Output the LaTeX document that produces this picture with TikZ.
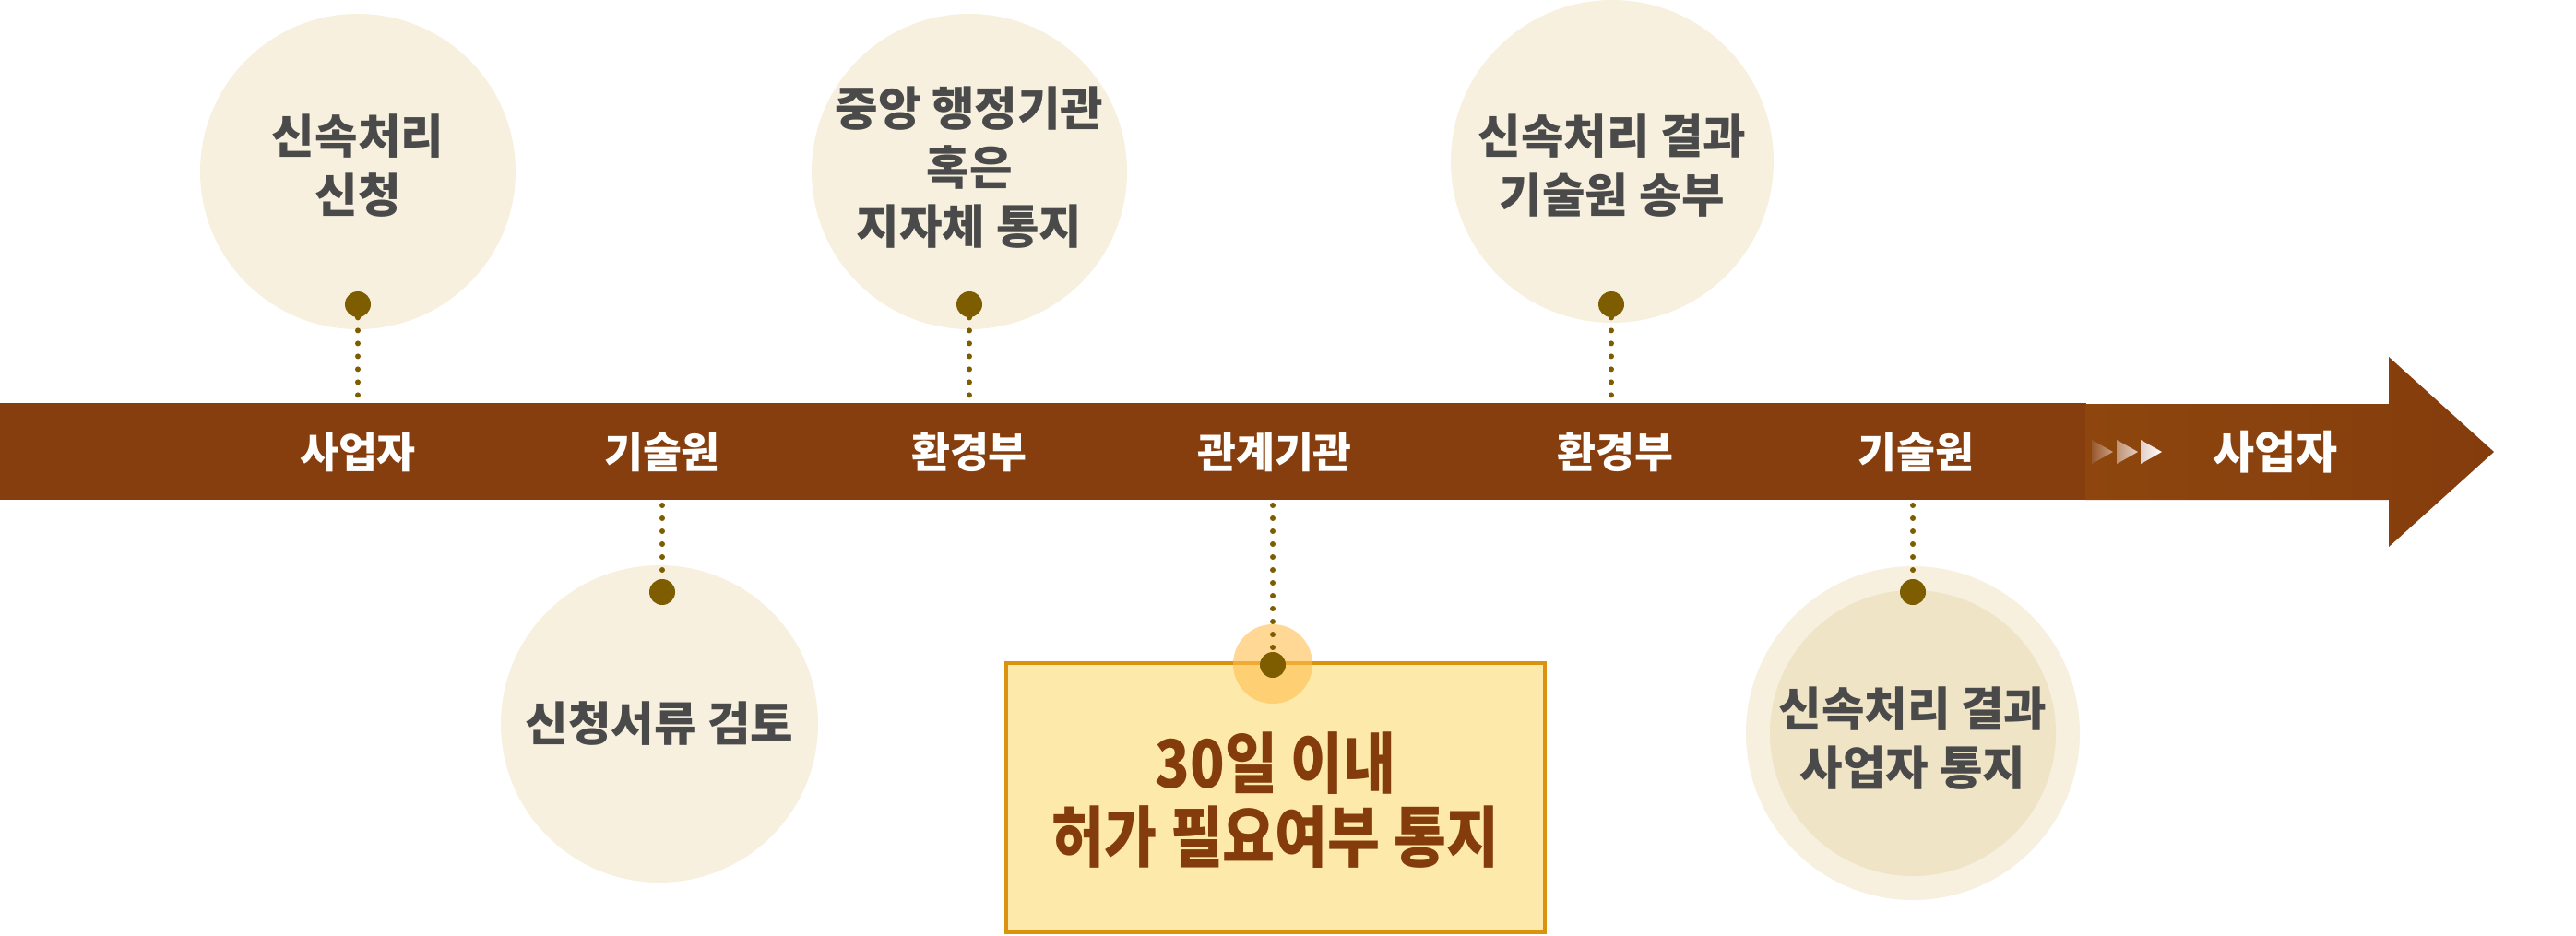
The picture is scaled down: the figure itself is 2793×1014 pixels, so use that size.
\documentclass[tikz,border=0pt]{standalone}
\usepackage{fontspec}
\setmainfont{Noto Sans CJK KR}
\newfontfamily\boxfont{Noto Sans CJK KR}[FakeStretch=0.86]
\definecolor{barc}{RGB}{135,62,14}
\definecolor{arrl}{RGB}{142,70,14}
\definecolor{arrr}{RGB}{132,60,13}
\definecolor{circc}{RGB}{247,240,223}
\definecolor{circin}{RGB}{239,228,197}
\definecolor{dotc}{RGB}{125,93,0}
\definecolor{txtc}{RGB}{74,74,74}
\definecolor{boxfill}{RGB}{253,233,169}
\definecolor{boxline}{RGB}{217,147,14}
\definecolor{boxtxt}{RGB}{132,60,12}
\definecolor{haloc}{RGB}{255,190,80}
\begin{document}
\begin{tikzpicture}[x=0.5pt,y=-0.5pt,
  circbox/.style={circle,fill=circc,inner sep=0pt,minimum size=#1},
  bigdot/.style={circle,fill=dotc,inner sep=0pt,minimum size=14pt},
  ctext/.style={align=center,text=txtc,font=\bfseries\fontsize{25.3}{32}\selectfont},
  barlabel/.style={text=white,font=\bfseries\fontsize{22.8}{26}\selectfont},
  dotline/.style={draw=dotc,line width=3pt,line cap=round,dash pattern=on 0pt off 7pt}]
\useasboundingbox (0,0) rectangle (2793,1014);
% timeline bar
\fill[barc] (0,437) rectangle (2262,542);
\shade[left color=arrl,right color=arrr] (2261,438) -- (2590,438) -- (2590,387) -- (2704,490) -- (2590,593) -- (2590,542) -- (2261,542) -- cycle;
% small triangles
\shade[left color={rgb,255:red,152;green,88;blue,45},right color={rgb,255:red,200;green,160;blue,130}] (2268,477) -- (2291,490) -- (2268,503) -- cycle;
\shade[left color={rgb,255:red,192;green,145;blue,115},right color={rgb,255:red,228;green,208;blue,195}] (2295,477) -- (2318,490) -- (2295,503) -- cycle;
\shade[left color={rgb,255:red,228;green,208;blue,200},right color=white] (2321,477) -- (2344,490) -- (2321,503) -- cycle;
% circles
\node[circbox=171pt] (c1) at (388,186) {};
\node[circbox=171pt] (c3) at (1051,186) {};
\node[circbox=175pt] (c4) at (1748,175) {};
\node[circbox=172pt] (c2) at (715,785) {};
\node[circbox=181pt] (c5) at (2074,795) {};
\node[circle,fill=circin,inner sep=0pt,minimum size=155pt] (c5in) at (2074,795) {};
% box
\node[draw=boxline,line width=1.6pt,fill=boxfill,minimum width=292pt,minimum height=146pt,inner sep=0pt] (bx) at (1383,865) {};
\fill[haloc,opacity=0.6] (1380,720) circle[radius=43];
% texts
\node[ctext] (t1) at (388,180) {신속처리\\신청};
\node[ctext] (t3) at (1051,182) {중앙 행정기관\\혹은\\지자체 통지};
\node[ctext] (t4) at (1748,180) {신속처리 결과\\기술원 송부};
\node[ctext] (t2) at (715,785) {신청서류 검토};
\node[ctext] (t5) at (2074,801) {신속처리 결과\\사업자 통지};
\node[align=center,text=boxtxt,font=\boxfont\bfseries\fontsize{36}{40}\selectfont] (tb) at (1383,868) {30일 이내\\허가 필요여부 통지};
% bar labels
\node[barlabel] (l1) at (388,490) {사업자};
\node[barlabel] (l2) at (718,490) {기술원};
\node[barlabel] (l3) at (1051,490) {환경부};
\node[barlabel] (l4) at (1382,490) {관계기관};
\node[barlabel] (l5) at (1751,490) {환경부};
\node[barlabel] (l6) at (2077,490) {기술원};
\node[text=white,font=\bfseries\fontsize{24.5}{28}\selectfont] (l7) at (2467,490) {사업자};
% dots
\node[bigdot] (d1) at (388,330) {};
\node[bigdot] (d3) at (1051,330) {};
\node[bigdot] (d4) at (1747,330) {};
\node[bigdot] (d2) at (718,642) {};
\node[bigdot] (db) at (1380,721) {};
\node[bigdot] (d5) at (2074,642) {};
% bar edge coordinates
\coordinate (e1) at (388,440);
\coordinate (e3) at (1051,440);
\coordinate (e4) at (1747,440);
\coordinate (e2) at (718,548);
\coordinate (eb) at (1380,548);
\coordinate (e5) at (2074,548);
% dotted connectors
\draw[dotline] (d1.south) -- (e1);
\draw[dotline] (d3.south) -- (e3);
\draw[dotline] (d4.south) -- (e4);
\draw[dotline] (e2) -- (d2.north);
\draw[dotline] (eb) -- (db.north);
\draw[dotline] (e5) -- (d5.north);
\end{tikzpicture}
\end{document}
